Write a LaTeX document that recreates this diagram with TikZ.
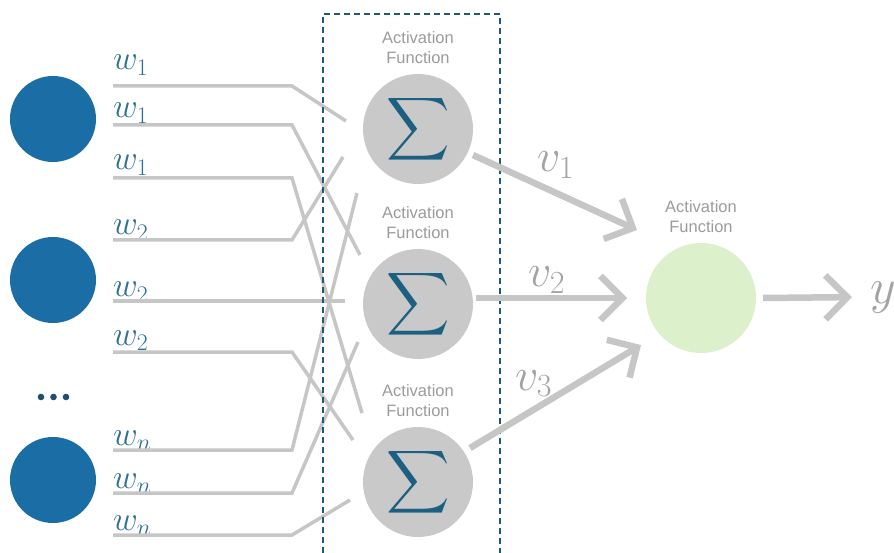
\RequirePackage{fix-cm}
\documentclass[tikz,border=0pt]{standalone}
\usepackage{fontspec}
\usepackage{graphicx}
\usepackage{tikz}
\usetikzlibrary{arrows.meta,positioning,calc}
\newfontfamily\captionsans{Liberation Sans}
\definecolor{inblue}{HTML}{1B6EA5}
\definecolor{sigblue}{HTML}{1C5F80}
\definecolor{sumgray}{HTML}{C9C9C9}
\definecolor{wiregray}{HTML}{C6C6C6}
\definecolor{labgray}{HTML}{9B9B9B}
\definecolor{vgray}{HTML}{A3A3A3}
\definecolor{leafgreen}{HTML}{DDF0CC}
\definecolor{boxblue}{HTML}{1E5A78}
\definecolor{wteal}{HTML}{2E7090}
\definecolor{dotblue}{HTML}{1F4E6E}
\newcommand{\bigsum}{\scalebox{4.4}{$\displaystyle\sum$}}

\begin{document}
\begin{tikzpicture}[x=1pt,y=-1pt,
  neuron/.style={circle,fill=inblue,minimum size=86pt,inner sep=0pt},
  sumnode/.style={circle,fill=sumgray,minimum size=110pt,inner sep=0pt,
                  text=sigblue},
  outnode/.style={circle,fill=leafgreen,minimum size=110pt,inner sep=0pt},
  actlabel/.style={align=center,text=labgray,inner sep=0pt,
                   font=\captionsans\fontsize{16.5}{19.5}\selectfont},
  wire/.style={draw=wiregray,line width=3.5pt},
  signal/.style={draw=wiregray,line width=6.5pt,
                 -{Straight Barb[length=22pt,width=44pt]}},
  weight/.style={anchor=base west,inner sep=0pt,text=wteal,
                 font=\fontsize{34}{34}\selectfont},
  outlabel/.style={anchor=base west,inner sep=0pt,text=vgray,
                   font=\fontsize{46}{46}\selectfont}]
 \useasboundingbox (0,0) rectangle (894,553);

 % inputs
 \node[neuron] (in1) at (53,119) {};
 \node[neuron] (in2) at (53,280) {};
 \node[neuron] (in3) at (53,480) {};
 \foreach \k in {0,1,2}
   \fill[dotblue] (41+12.5*\k,397) circle (3.3pt);

 % summing units and output unit
 \node[sumnode] (s1) at (418,129) {\bigsum};
 \node[sumnode] (s2) at (418,304) {\bigsum};
 \node[sumnode] (s3) at (418,482) {\bigsum};
 \node[outnode] (out) at (701,298) {};
 \foreach \n in {s1,s2,s3,out}
   \node[actlabel,above=10pt of \n] (act-\n) {Activation\\Function};

 % weighted wires
 \foreach \ly/\wy/\sig/\dx/\dy/\sub [count=\i] in
   {70/86/s1/-72/-8/1, 118/125/s2/-58/-49/1, 170/178/s3/-56/-69/1,
    235/240/s1/-75/28/2, 297/301/s2/-73/-3/2, 345/352/s3/-65/-42/2,
    445/450/s1/-61/64/n, 488/493/s2/-60/38/n, 530/535/s3/-68/18/n}
 {
   \node[weight] (w\i) at (113,\ly) {$w_\sub$};
   \coordinate (t\i) at (113,\wy);
   \draw[wire] (t\i) -- ++(179,0) -- ($(\sig)+(\dx,\dy)$);
 }

 % dashed frame round the summing units
 \draw[boxblue,line width=1.8pt,dash pattern=on 6pt off 4pt]
   (323,553) -- (323,14) -- (500,14) -- (500,553);

 % signals
 \node[outlabel] (v1) at (537,172) {$v_1$};
 \node[outlabel] (v2) at (528,287) {$v_2$};
 \node[outlabel] (v3) at (515,390) {$v_3$};
 \node[outlabel,font=\fontsize{50}{50}\selectfont] (yout) at (870,303) {$y$};
 \draw[signal] ($(s1)+(55,26)$) -- ($(out)+(-64,-68)$);
 \draw[signal] ($(s2)+(58,-6)$) -- ($(out)+(-74,0)$);
 \draw[signal] ($(s3)+(52,-34)$) -- ($(out)+(-60,47)$);
 \draw[signal] ($(out)+(62,0)$) -- ($(yout.west)+(-18,0)$);
\end{tikzpicture}
\end{document}
